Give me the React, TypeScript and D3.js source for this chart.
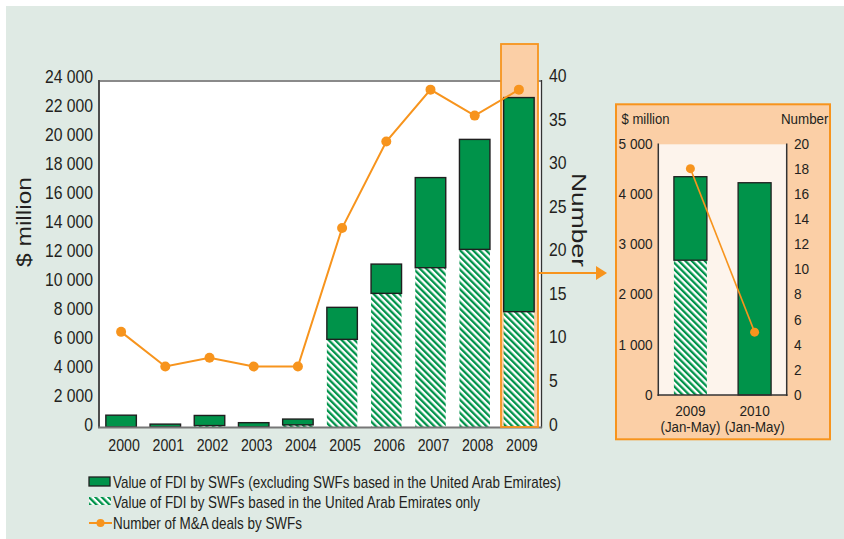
import React from "react";
import * as d3 from "d3";

const years = ["2000","2001","2002","2003","2004","2005","2006","2007","2008","2009"];
const fdiTotal = [820, 200, 800, 300, 550, 8300, 11300, 17300, 19950, 22850];
const fdiUAE = [0, 0, 100, 0, 150, 6080, 9270, 11050, 12320, 8000];
const deals = [11, 7, 8, 7, 7, 23, 33, 39, 36, 39];
const leftTicks = [0,2000,4000,6000,8000,10000,12000,14000,16000,18000,20000,22000,24000];
const rightTicks = [0,5,10,15,20,25,30,35,40];

const insetCats = ["2009", "2010"];
const insetTotal = [4340, 4220];
const insetUAE = [2680, 0];
const insetDeals = [18, 5];
const insetLeftTicks = [0,1000,2000,3000,4000,5000];
const insetRightTicks = [0,2,4,6,8,10,12,14,16,18,20];

const legendItems = [
  "Value of FDI by SWFs (excluding SWFs based in the United Arab Emirates)",
  "Value of FDI by SWFs based in the United Arab Emirates only",
  "Number of M&A deals by SWFs",
];

const GREEN = "#00934a";
const ORANGE = "#f7941d";
const LORANGE = "#fbcfa6";
const BG = "#dfeae4";
const FONT = "'Liberation Sans', Arial, sans-serif";

const fmt = (v: number) => (v >= 1000 ? d3.format(",")(v).replace(/,/g, " ") : String(v));

function T({ x, y, size, sx = 1, anchor = "start", rot = 0, children, len }: any) {
  return (
    <text
      transform={`translate(${x},${y}) rotate(${rot}) scale(${sx},1)`}
      fontSize={size}
      textAnchor={anchor}
      fontFamily={FONT}
      fill="#231f20"
      textLength={len}
      lengthAdjust={len ? "spacingAndGlyphs" : undefined}
    >
      {children}
    </text>
  );
}

export default function App() {
  const W = 844, H = 539;
  // main chart
  const x = d3.scaleBand<string>().domain(years).range([99, 541]).paddingInner(0.31).paddingOuter(0.155);
  const y = d3.scaleLinear().domain([0, 24000]).range([427, 81]);
  const yr = d3.scaleLinear().domain([0, 40]).range([427, 81]);
  // tick label baselines (labels are spread slightly wider than the plot)
  const yLab = d3.scaleLinear().domain([0, 24000]).range([430.5, 82.5]);
  const yrLab = d3.scaleLinear().domain([0, 40]).range([430.5, 82]);
  const line = d3.line<number>().x((_, i) => x(years[i])! + x.bandwidth() / 2).y((d) => yr(d));

  // inset
  const xi = d3.scaleBand<string>().domain(insetCats).range([658.3, 786.7]).paddingInner(0.486).paddingOuter(0.243);
  const yi = d3.scaleLinear().domain([0, 5000]).range([395, 143.5]);
  const yir = d3.scaleLinear().domain([0, 20]).range([395, 143.5]);
  const linei = d3.line<number>().x((_, i) => xi(insetCats[i])! + xi.bandwidth() / 2).y((d) => yir(d));

  const boxL = 501, boxR = 538;

  return (
    <svg width={W} height={H} style={{ position: "absolute", left: 0, top: 0 }}>
      <defs>
        <pattern id="hatch" patternUnits="userSpaceOnUse" width="4.6" height="4.6" patternTransform="rotate(-45)">
          <rect width="4.6" height="4.6" fill="#ffffff" />
          <rect width="2.3" height="4.6" fill={GREEN} />
        </pattern>
      </defs>
      <rect x={0} y={0} width={W} height={H} fill="#ffffff" />
      <rect x={6} y={6} width={W - 6} height={H - 6} fill={BG} />

      {/* plot area */}
      <rect x={99} y={81} width={442} height={346} fill="#ffffff" />
      <line x1={99} x2={541} y1={81} y2={81} stroke="#8a8a8a" strokeWidth={2} />
      <line x1={99} x2={99} y1={80} y2={428} stroke="#4d4d4d" strokeWidth={2} />
      <line x1={541.5} x2={541.5} y1={80} y2={428} stroke="#333" strokeWidth={1.3} />

      {/* highlight box fill */}
      <rect x={boxL} y={44} width={boxR - boxL} height={383} fill={LORANGE} />

      {/* bars */}
      {years.map((yv, i) => {
        const bx = x(yv)!, bw = x.bandwidth();
        return (
          <g key={yv}>
            {fdiUAE[i] > 0 && (
              <rect x={bx} y={y(fdiUAE[i])} width={bw} height={y(0) - y(fdiUAE[i])} fill="url(#hatch)" />
            )}
            <rect
              x={bx}
              y={y(fdiTotal[i])}
              width={bw}
              height={Math.max(0.5, y(fdiUAE[i]) - y(fdiTotal[i]))}
              fill={GREEN}
              stroke="#1f1f1f"
              strokeWidth={1.4}
            />
          </g>
        );
      })}
      <line x1={98} x2={542} y1={427.5} y2={427.5} stroke="#777" strokeWidth={2} />

      {/* line */}
      <path d={line(deals) || ""} fill="none" stroke={ORANGE} strokeWidth={2} />
      {deals.map((d, i) => (
        <circle key={i} cx={x(years[i])! + x.bandwidth() / 2} cy={yr(d)} r={5} fill={ORANGE} />
      ))}

      {/* highlight box border */}
      <rect x={boxL} y={44} width={boxR - boxL} height={383} fill="none" stroke={ORANGE} strokeWidth={1.8} />

      {/* arrow */}
      <line x1={boxR} x2={598} y1={273} y2={273} stroke={ORANGE} strokeWidth={2} />
      <path d="M596,266 L607,273 L596,280 Z" fill={ORANGE} />

      {/* left ticks */}
      {leftTicks.map((t) => (
        <T key={t} x={93} y={yLab(t)} size={17.5} sx={0.9} anchor="end">{fmt(t)}</T>
      ))}
      {rightTicks.map((t) => (
        <T key={t} x={549} y={yrLab(t)} size={17.5} sx={0.9}>{t}</T>
      ))}
      {years.map((yv) => (
        <T key={yv} x={x(yv)! + x.bandwidth() / 2 + 3} y={451} size={16.5} sx={0.86} anchor="middle">{yv}</T>
      ))}
      <T x={31} y={222} size={20} rot={-90} anchor="middle" len={90}>$ million</T>
      <T x={572} y={220} size={21} rot={90} anchor="middle" len={94}>Number</T>

      {/* legend */}
      <rect x={89} y={477} width={21} height={9} fill={GREEN} stroke="#1f1f1f" strokeWidth={1.3} />
      <rect x={89} y={497} width={22} height={8} fill="url(#hatch)" />
      <line x1={89} x2={112} y1={523} y2={523} stroke={ORANGE} strokeWidth={2} />
      <circle cx={100.5} cy={523} r={4} fill={ORANGE} />
      <T x={113} y={487.5} size={17} len={448}>{legendItems[0]}</T>
      <T x={113} y={508} size={17} len={367}>{legendItems[1]}</T>
      <T x={113} y={529} size={17} len={189}>{legendItems[2]}</T>

      {/* inset */}
      <rect x={616} y={104.3} width={214} height={335} fill={LORANGE} stroke={ORANGE} strokeWidth={2} />
      <rect x={658.3} y={144.3} width={128.4} height={250.7} fill="#fdf4ec" />
      {insetCats.map((c, i) => {
        const bx = xi(c)!, bw = xi.bandwidth();
        return (
          <g key={c}>
            {insetUAE[i] > 0 && (
              <rect x={bx} y={yi(insetUAE[i])} width={bw} height={yi(0) - yi(insetUAE[i])} fill="url(#hatch)" />
            )}
            <rect x={bx} y={yi(insetTotal[i])} width={bw} height={yi(insetUAE[i]) - yi(insetTotal[i])}
              fill={GREEN} stroke="#1f1f1f" strokeWidth={1.3} />
          </g>
        );
      })}
      <line x1={658.3} x2={658.3} y1={143.5} y2={396} stroke="#333" strokeWidth={1.5} />
      <line x1={786.7} x2={786.7} y1={143.5} y2={396} stroke="#333" strokeWidth={1.5} />
      <line x1={657.5} x2={787.5} y1={395} y2={395} stroke="#333" strokeWidth={1.5} />
      <path d={linei(insetDeals) || ""} fill="none" stroke={ORANGE} strokeWidth={1.6} />
      {insetDeals.map((d, i) => (
        <circle key={i} cx={xi(insetCats[i])! + xi.bandwidth() / 2} cy={yir(d)} r={4.5} fill={ORANGE} />
      ))}
      {insetLeftTicks.map((t) => (
        <T key={t} x={652.7} y={yi(t) + 5} size={15.5} sx={0.88} anchor="end">{fmt(t)}</T>
      ))}
      {insetRightTicks.map((t) => (
        <T key={t} x={794} y={yir(t) + 5} size={15.5} sx={0.88}>{t}</T>
      ))}
      <T x={621.5} y={124} size={15.5} len={48}>$ million</T>
      <T x={828.5} y={124} size={15.5} len={47.6} anchor="end">Number</T>
      {insetCats.map((c) => (
        <g key={c}>
          <T x={xi(c)! + xi.bandwidth() / 2} y={416} size={15.5} sx={0.88} anchor="middle">{c}</T>
          <T x={xi(c)! + xi.bandwidth() / 2} y={432} size={15.5} sx={0.86} anchor="middle">(Jan-May)</T>
        </g>
      ))}
    </svg>
  );
}
